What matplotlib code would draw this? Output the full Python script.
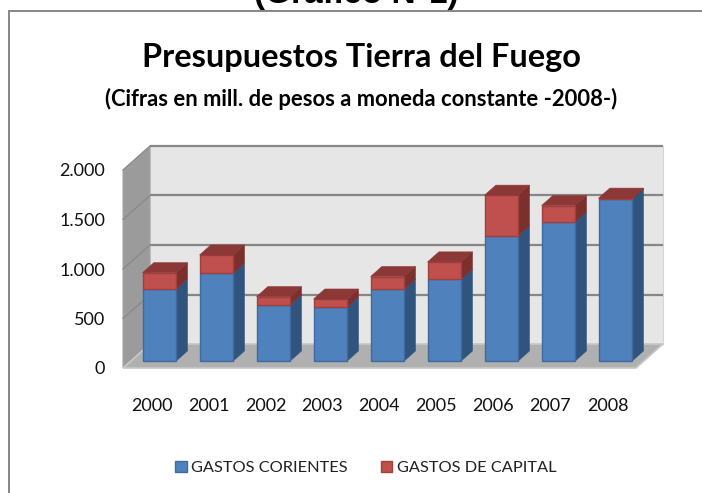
import matplotlib
matplotlib.use("Agg")
import matplotlib.pyplot as plt
from matplotlib.patches import Patch, Rectangle

years = ["2000","2001","2002","2003","2004","2005","2006","2007","2008"]
corrientes = [727, 886, 566, 542, 725, 825, 1265, 1405, 1633]
capital = [165, 185, 84, 84, 128, 176, 410, 165, 12]
yticks = [0, 500, 1000, 1500, 2000]
yticklabels = ["0", "500", "1.000", "1.500", "2.000"]

W, H = 702, 493
FONT = "Lato"
plt.rcParams["font.family"] = [FONT, "DejaVu Sans"]
fig = plt.figure(figsize=(W/100, H/100), dpi=100, facecolor="white")
fig.add_artist(Rectangle((8.5/W, -0.02), 1.0, 1-11/H+0.02, transform=fig.transFigure,
                         fc="white", ec="#868686", lw=1.4, zorder=-5))

L, R, T, B = 123, 664, 146, 368
ax = fig.add_axes([L/W, 1-B/H, (R-L)/W, (B-T)/H])
px_x = 57.0            # pixels per category
px_y = 0.099           # pixels per value unit
ax.set_xlim(-0.5, 8.5 + 28/px_x)
ax.set_ylim(0, (B-T)/px_y)
ax.patch.set_alpha(0)
for s in ax.spines.values():
    s.set_visible(False)

DX = 27/px_x   # depth vector, in data units
DY = 24/px_y
def pr(x, v, d):
    return x + d*DX, v + d*DY

xl, xr = -0.5, 8.5
top = 2000
def poly(pts, **kw):
    xs, ys = zip(*pts)
    ax.fill(xs, ys, clip_on=False, **kw)

# walls and floor
poly([pr(xl,0,1), pr(xr,0,1), pr(xr,top,1), pr(xl,top,1)], fc="#e6e6e6", ec="#d4d4d4", lw=0.8, zorder=1)
poly([pr(xl,0,0), pr(xl,0,1), pr(xl,top,1), pr(xl,top,0)], fc="#9b9b9b", ec="#a8a8a8", lw=0.8, zorder=1)
poly([pr(xl,0,0), pr(xr,0,0), pr(xr,0,1), pr(xl,0,1)], fc="#b0b0b0", ec="#c8c8c8", lw=1.2, zorder=1.5)
for t in yticks[1:]:
    ax.plot(*zip(pr(xl,t,1), pr(xr,t,1)), color="#868686", lw=1.6, zorder=2, clip_on=False, solid_capstyle="butt")
    ax.plot(*zip(pr(xl,t,0), pr(xl,t,1)), color="#868686", lw=0.8, zorder=2, clip_on=False)

# bars
bw = 0.59
d0, d1 = 0.29, 0.71
blue, red = "#4f81bd", "#c0504d"
zb = 3
for i, (a, b) in enumerate(zip(corrientes, capital)):
    for bot, h, fc, ec, side, topc in [(0, a, blue, "#3f6a9e", "#31547f", "#3d6797"),
                                       (a, b, red, "#a03f3c", "#7c302e", "#8c3836")]:
        x0, x1 = i-bw/2, i+bw/2
        poly([pr(x1,bot,d0), pr(x1,bot,d1), pr(x1,bot+h,d1), pr(x1,bot+h,d0)], fc=side, ec=side, lw=0.4, zorder=zb+i*0.1)
        fx, fy = pr(i, bot, d0)
        ax.bar(fx, h, width=bw, bottom=fy, color=fc, edgecolor=ec, linewidth=1.0, zorder=zb+i*0.1+0.02, clip_on=False)
    t = a + b
    poly([pr(i-bw/2,t,d0), pr(i+bw/2,t,d0), pr(i+bw/2,t,d1), pr(i-bw/2,t,d1)], fc="#8c3836", ec="#8c3836", lw=0.4, zorder=zb+i*0.1+0.03)

ax.set_xticks(range(len(years)), years)
ax.set_yticks(yticks, yticklabels)
ax.tick_params(axis="both", length=0, labelsize=13, labelcolor="#111111")
ax.tick_params(axis="x", pad=21.5)
ax.tick_params(axis="y", pad=13)

fig.text(356/W, 1+6/H, "(Gráfico N°1)", ha="center", va="center", family="Liberation Sans",
         weight="bold", fontsize=24, color="black")
fig.text(362/W, 1-58/H, "Presupuestos Tierra del Fuego", ha="center", va="center",
         weight="bold", fontsize=23.4, color="black")
fig.text(361/W, 1-99/H, "(Cifras en mill. de pesos a moneda constante -2008-)", ha="center", va="center",
         weight="bold", fontsize=15.8, color="black")

handles = [Patch(fc=blue, ec="#3f6a9e", label="GASTOS CORIENTES"),
           Patch(fc=red, ec="#a03f3c", label="GASTOS DE CAPITAL")]
fig.legend(handles=handles, loc="center", bbox_to_anchor=(366/W, 1-468/H), ncol=2, frameon=False,
           fontsize=11.8, handlelength=0.68, handleheight=0.68, handletextpad=0.3, columnspacing=2.0,
           labelcolor="#222222")

fig.savefig("out.png", dpi=100)
